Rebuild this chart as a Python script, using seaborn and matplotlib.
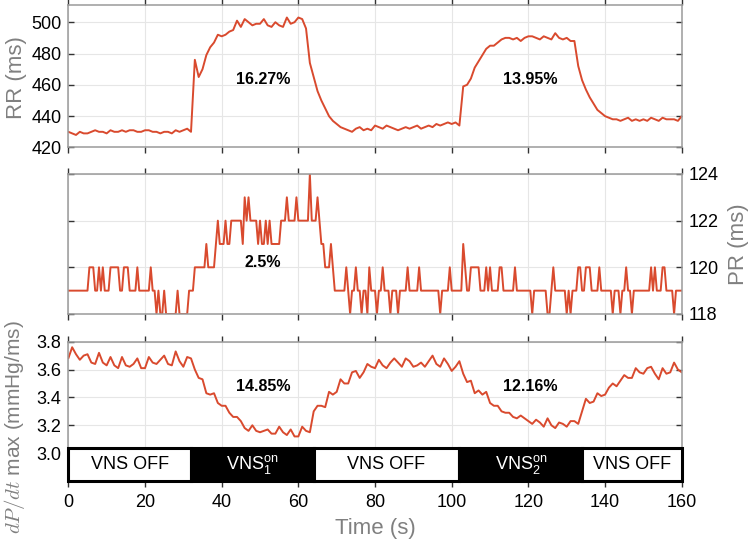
import numpy as np
import matplotlib
matplotlib.use("Agg")
import matplotlib.pyplot as plt
import seaborn as sns

# -----------------------------
# Data
# -----------------------------
t_1s = np.arange(0, 161, 1.0)       # RR and dP/dt sampled every second
t_half = np.arange(0, 160.5, 0.5)   # PR sampled every half second

rr = [430, 429, 428, 430, 429, 429, 430, 431, 430, 430,
      429, 431, 430, 430, 431, 430, 431, 431, 430, 430,
      431, 431, 430, 430, 429, 430, 430, 429, 431, 430,
      431, 432, 430, 476, 465, 470, 479, 484, 487, 492,
      491, 492, 494, 495, 501, 497, 502, 500, 498, 499,
      499, 502, 498, 497, 500, 498, 497, 503, 499, 500,
      503, 502, 496, 474, 465, 456, 450, 445, 440, 437,
      435, 433, 432, 431, 430, 432, 433, 431, 432, 431,
      434, 433, 432, 434, 433, 432, 431, 432, 433, 432,
      433, 434, 432, 433, 434, 433, 435, 434, 435, 436,
      435, 436, 434, 459, 460, 464, 471, 475, 479, 483,
      485, 485, 487, 489, 490, 490, 489, 490, 488, 490,
      491, 491, 490, 489, 491, 490, 489, 493, 490, 489,
      490, 488, 488, 472, 463, 457, 452, 448, 444, 442,
      440, 439, 438, 438, 437, 438, 439, 437, 438, 437,
      438, 437, 439, 438, 437, 439, 438, 438, 438, 437, 440]

pr = [119, 119, 119, 119, 119, 119, 119, 119, 119, 119, 119, 120, 120, 120, 119, 119, 120, 119, 120, 119,
      119, 119, 120, 120, 120, 120, 120, 119, 119, 120, 120, 120, 119, 119, 119, 119, 120, 119, 119, 119,
      119, 119, 119, 120, 119, 119, 118, 119, 118, 118, 119, 118, 118, 118, 118, 118, 118, 119, 118, 118,
      118, 118, 118, 119, 119, 119, 120, 120, 120, 120, 120, 120, 121, 120, 120, 120, 120, 121, 122, 121,
      121, 121, 122, 121, 121, 122, 122, 122, 122, 122, 122, 121, 123, 122, 123, 122, 122, 122, 122, 121,
      122, 121, 121, 122, 121, 122, 121, 121, 121, 121, 121, 122, 122, 122, 123, 122, 122, 122, 122, 123,
      122, 122, 122, 122, 122, 122, 124, 122, 122, 122, 123, 122, 121, 121, 120, 120, 120, 121, 120, 119,
      119, 119, 119, 119, 119, 120, 119, 118, 119, 119, 120, 119, 119, 118, 119, 119, 118, 120, 119, 119,
      119, 118, 119, 119, 120, 119, 119, 119, 118, 119, 119, 119, 118, 119, 119, 119, 119, 120, 119, 119,
      119, 119, 119, 120, 119, 119, 119, 119, 119, 119, 119, 119, 119, 119, 118, 119, 119, 119, 119, 120,
      119, 119, 119, 119, 119, 119, 121, 120, 119, 119, 120, 120, 120, 120, 120, 119, 119, 119, 120, 119,
      120, 119, 119, 119, 119, 120, 120, 119, 119, 119, 119, 119, 119, 120, 119, 119, 119, 119, 119, 119,
      119, 119, 118, 119, 119, 119, 119, 119, 119, 119, 118, 118, 119, 120, 119, 119, 119, 119, 119, 119,
      118, 119, 118, 119, 119, 119, 120, 120, 119, 119, 120, 120, 120, 119, 119, 119, 119, 120, 119, 119,
      119, 119, 119, 119, 118, 119, 119, 119, 118, 119, 119, 120, 119, 119, 118, 119, 119, 119, 119, 119,
      119, 119, 119, 119, 120, 119, 120, 119, 119, 119, 120, 120, 119, 119, 119, 119, 118, 119, 119, 119, 119]

dpdt = [3.68, 3.76, 3.71, 3.67, 3.70, 3.71, 3.65, 3.64, 3.72, 3.65,
        3.63, 3.69, 3.63, 3.61, 3.69, 3.63, 3.62, 3.64, 3.68, 3.61,
        3.61, 3.69, 3.65, 3.64, 3.67, 3.70, 3.64, 3.63, 3.73, 3.66,
        3.62, 3.69, 3.68, 3.60, 3.54, 3.53, 3.43, 3.42, 3.43, 3.36,
        3.34, 3.34, 3.29, 3.26, 3.26, 3.23, 3.18, 3.16, 3.20, 3.16,
        3.15, 3.16, 3.17, 3.14, 3.14, 3.19, 3.15, 3.13, 3.17, 3.12,
        3.12, 3.19, 3.16, 3.15, 3.30, 3.34, 3.34, 3.33, 3.44, 3.42,
        3.44, 3.53, 3.50, 3.50, 3.58, 3.59, 3.54, 3.58, 3.64, 3.62,
        3.61, 3.67, 3.63, 3.61, 3.65, 3.68, 3.65, 3.62, 3.68, 3.66,
        3.62, 3.63, 3.65, 3.62, 3.66, 3.70, 3.64, 3.62, 3.68, 3.64,
        3.59, 3.62, 3.66, 3.57, 3.51, 3.52, 3.43, 3.45, 3.42, 3.44,
        3.36, 3.34, 3.34, 3.30, 3.29, 3.29, 3.26, 3.25, 3.27, 3.25,
        3.23, 3.21, 3.24, 3.22, 3.19, 3.25, 3.20, 3.18, 3.22, 3.21,
        3.19, 3.23, 3.23, 3.21, 3.30, 3.39, 3.36, 3.37, 3.43, 3.41,
        3.42, 3.47, 3.50, 3.48, 3.52, 3.56, 3.54, 3.54, 3.61, 3.58,
        3.57, 3.61, 3.62, 3.57, 3.53, 3.61, 3.57, 3.58, 3.65, 3.60, 3.58]

# stimulation phases shown in the strip under the bottom panel
phase_start = [0, 32, 64, 102, 134]
phase_end = [32, 64, 102, 134, 160]
phase_label = ["VNS OFF", r"$\mathregular{VNS_1^{on}}$", "VNS OFF",
               r"$\mathregular{VNS_2^{on}}$", "VNS OFF"]
phase_on = [False, True, False, True, False]

# percent-change annotations per panel: (x, y, text)
rr_notes = [(50.8, 463.5, "16.27%"), (120.4, 463.5, "13.95%")]
pr_notes = [(50.8, 120.2, "2.5%")]
dp_notes = [(50.8, 3.477, "14.85%"), (120.4, 3.477, "12.16%")]

# -----------------------------
# Style
# -----------------------------
sns.set_theme(style="white")
plt.rcParams["font.family"] = ["Liberation Sans", "DejaVu Sans"]

line_c = "#d94a2e"
label_c = "#808080"
spine_c = "#9a9a9a"
grid_c = "#e6e6e6"

fig = plt.figure(figsize=(7.5, 5.42), dpi=100)
left, width = 0.0911, 0.8179
ax1 = fig.add_axes([left, 0.7279, width, 0.2629])
ax2 = fig.add_axes([left, 0.4207, width, 0.2583])
ax3 = fig.add_axes([left, 0.1125, width, 0.2571])

sns.lineplot(x=t_1s, y=rr, ax=ax1, color=line_c, linewidth=1.4, errorbar=None)
sns.lineplot(x=t_half, y=pr, ax=ax2, color=line_c, linewidth=1.4, errorbar=None)
sns.lineplot(x=t_1s, y=dpdt, ax=ax3, color=line_c, linewidth=1.4, errorbar=None)

ax1.set_ylim(420, 511)
ax1.set_yticks([420, 440, 460, 480, 500])
ax2.set_ylim(118, 124)
ax2.set_yticks([118, 120, 122, 124])
ax3.set_ylim(2.8, 3.8)
ax3.set_yticks([3.0, 3.2, 3.4, 3.6, 3.8])
ax3.set_yticklabels(["3.0", "3.2", "3.4", "3.6", "3.8"])

for ax in (ax1, ax2, ax3):
    ax.set_xlim(0, 160)
    ax.set_xticks(np.arange(0, 161, 20))
    ax.grid(True, color=grid_c, linewidth=0.8)
    ax.set_axisbelow(True)
    for sp in ax.spines.values():
        sp.set_color(spine_c)
        sp.set_linewidth(1.1)
    ax.tick_params(axis="x", direction="out", length=4, width=1, color="#333333",
                   top=True, bottom=True, labelsize=13, pad=5, labelcolor="black")
    ax.tick_params(axis="y", direction="in", length=4, width=1, color="#333333",
                   left=True, right=True, labelsize=13, pad=5, labelcolor="black")
    ax.set_xlabel("")
    ax.set_ylabel("")

ax1.tick_params(axis="x", labelbottom=False)
ax2.tick_params(axis="x", labelbottom=False)
ax2.tick_params(axis="y", labelleft=False, labelright=True)

ax1.set_ylabel("RR (ms)", fontsize=16, color=label_c)
ax1.yaxis.set_label_coords(-0.068, 0.49)
ax2.yaxis.set_label_position("right")
ax2.set_ylabel("PR (ms)", fontsize=16, color=label_c)
ax2.yaxis.set_label_coords(1.076, 0.5)
ax3.set_ylabel(r"$dP/dt$ max (mmHg/ms)", fontsize=15, color=label_c,
               math_fontfamily="cm")
ax3.yaxis.set_label_coords(-0.068, 0.39)
ax3.set_xlabel("Time (s)", fontsize=16, color=label_c)
ax3.xaxis.set_label_coords(0.5, -0.265)

# stimulation strip
widths = [e - s for s, e in zip(phase_start, phase_end)]
colors = ["black" if on else "white" for on in phase_on]
ax3.bar(phase_start, 0.24, width=widths, bottom=2.8, align="edge",
        color=colors, edgecolor="black", linewidth=2.2, clip_on=False, zorder=3)
for s, e, lab, on in zip(phase_start, phase_end, phase_label, phase_on):
    ax3.text((s + e) / 2, 2.915, lab, ha="center", va="center", fontsize=13,
             color="white" if on else "black", zorder=4)

for ax, notes in ((ax1, rr_notes), (ax2, pr_notes), (ax3, dp_notes)):
    for x, y, s in notes:
        ax.text(x, y, s, ha="center", va="center", fontsize=11.5,
                fontweight="bold", color="black", zorder=5)

fig.savefig("out.png", dpi=100)
